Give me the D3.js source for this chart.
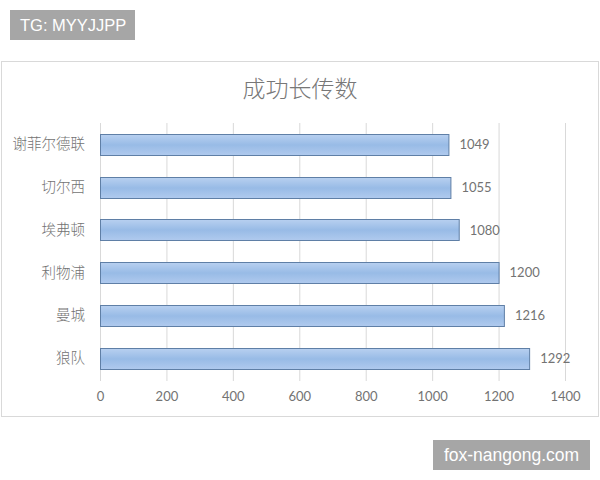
<!DOCTYPE html>
<html><head><meta charset="utf-8">
<script src="https://cdn.jsdelivr.net/npm/d3@7"></script>
<style>body{margin:0;background:#fff}svg{display:block}</style>
</head><body>
<svg id="c" width="600" height="480"></svg>
<script>
const categories = ["谢菲尔德联", "切尔西", "埃弗顿", "利物浦", "曼城", "狼队"];
const values = [1049, 1055, 1080, 1200, 1216, 1292];
const tickValues = [0, 200, 400, 600, 800, 1000, 1200, 1400];
const title = "成功长传数";

const svg = d3.select("#c");
const defs = svg.append("defs");
const g = defs.append("linearGradient").attr("id","bg").attr("x1",0).attr("y1",0).attr("x2",0).attr("y2",1);
g.append("stop").attr("offset","0%").attr("stop-color","#b8d0f0");
g.append("stop").attr("offset","50%").attr("stop-color","#98bbe6");
g.append("stop").attr("offset","100%").attr("stop-color","#b0caee");

// chart frame
svg.append("rect").attr("x",1.5).attr("y",61.5).attr("width",597).attr("height",355)
  .attr("fill","#fff").attr("stroke","#d9d9d9");

svg.append("text").attr("x",300).attr("y",96.5).attr("text-anchor","middle")
  .attr("font-family","Noto Sans CJK SC").attr("font-weight",300).attr("font-size",23).attr("fill","#777").text(title);

const x = d3.scaleLinear().domain([0,1400]).range([100,565]);
const y = d3.scaleBand().domain(categories).range([123,380]).paddingInner(0.5).paddingOuter(0.25);

// gridlines
svg.append("g").selectAll("line").data(tickValues).join("line")
  .attr("x1",d=>x(d)+0.5).attr("x2",d=>x(d)+0.5).attr("y1",123).attr("y2",381)
  .attr("stroke","#d9d9d9").attr("stroke-width",1);

// x axis labels
const xa = svg.append("g").attr("transform","translate(0,381)")
  .call(d3.axisBottom(x).tickValues(tickValues).tickSize(0).tickPadding(11).tickFormat(d3.format("d")));
xa.select(".domain").remove();
xa.selectAll("text").attr("font-family","Lato").attr("font-size",13).attr("fill","#737373");

// y axis labels
const ya = svg.append("g").attr("transform","translate(100,0)")
  .call(d3.axisLeft(y).tickSize(0).tickPadding(15));
ya.select(".domain").remove();
ya.selectAll("text").attr("font-family","Noto Sans CJK SC").attr("font-weight",300).attr("font-size",14.5).attr("fill","#737373");

// bars
svg.append("g").selectAll("rect").data(categories).join("rect")
  .attr("x",x(0)+0.5).attr("y",(d)=>Math.round(y(d))+0.5)
  .attr("width",(d,i)=>x(values[i])-x(0)).attr("height",Math.round(y.bandwidth()))
  .attr("fill","url(#bg)").attr("stroke","#5f7fa6").attr("stroke-width",1);

// value labels
svg.append("g").selectAll("text").data(categories).join("text")
  .attr("x",(d,i)=>x(values[i])+11).attr("y",d=>y(d)+y.bandwidth()/2).attr("dy","0.35em")
  .attr("font-family","Lato").attr("font-size",13).attr("fill","#737373")
  .text((d,i)=>values[i]);

// watermarks
svg.append("rect").attr("x",10).attr("y",10).attr("width",125).attr("height",30).attr("fill","#a6a6a6");
svg.append("text").attr("x",20).attr("y",25).attr("dy","0.35em").attr("font-family","Liberation Sans")
  .attr("font-size",16.5).attr("fill","#fff").text("TG: MYYJJPP");
svg.append("rect").attr("x",433).attr("y",440).attr("width",157).attr("height",30).attr("fill","#a6a6a6");
svg.append("text").attr("x",511.5).attr("y",455).attr("dy","0.35em").attr("text-anchor","middle").attr("font-family","Liberation Sans")
  .attr("font-size",17.5).attr("fill","#fff").text("fox-nangong.com");
</script>
</body></html>
